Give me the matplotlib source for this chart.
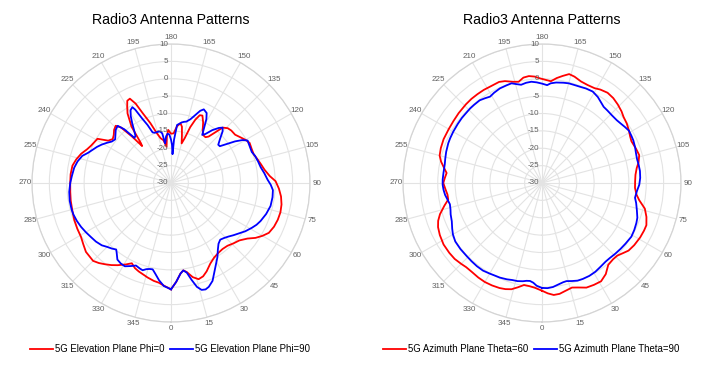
import numpy as np
import matplotlib
matplotlib.use('Agg')
import matplotlib.pyplot as plt
from matplotlib.transforms import offset_copy

plt.rcParams['font.family'] = ['Liberation Sans', 'DejaVu Sans']

# elevation plane, phi = 0 (red)
elev_phi0_deg = [0, 3, 6, 8, 10, 13, 16, 19, 22, 26, 30, 34, 38, 42, 46, 50, 54, 57, 60, 63,
                 67, 71, 75, 79, 83, 87, 91, 94, 98, 102, 106, 109, 113, 117, 120, 123, 127, 131, 134, 137,
                 139, 141, 143, 146, 149, 152, 155, 157, 159, 161, 163, 165, 167, 169, 171, 174, 177, 180, 183, 185,
                 187, 190, 193, 196, 199, 202, 204, 206, 208, 210, 212, 215, 217, 218, 220, 222, 224, 227, 230, 233,
                 236, 239, 242, 245, 248, 252, 256, 260, 265, 270, 275, 280, 286, 291, 296, 301, 305, 309, 315, 318,
                 321, 324, 327, 331, 334, 337, 340, 343, 346, 350, 353, 356, 360]
elev_phi0_db = [0.6, -1.5, -3.8, -4.6, -4.0, -2.2, -1.2, -1.6, -2.6, -4.2, -5.2, -5.7, -5.9, -5.7, -5.0, -4.3, -2.8, -1.0, 0.4, 1.6,
                2.2, 2.5, 2.6, 2.4, 1.9, 1.1, 0.1, -1.5, -2.8, -3.6, -4.3, -4.8, -4.8, -4.6, -5.2, -6.0, -6.9, -7.0, -7.3, -8.2,
                -10.8, -12.8, -13.5, -13.4, -12.3, -10.3, -8.6, -8.8, -10.5, -13.0, -16.5, -18.2, -16.0, -13.5, -12.6, -13.6, -15.7, -15.8, -14.7, -16.5,
                -19.5, -17.5, -16.8, -15.0, -11.8, -8.4, -5.0, -3.0, -3.2, -4.8, -6.4, -10.2, -15.5, -16.5, -12.5, -8.5, -7.1, -7.6, -8.5, -9.0,
                -8.2, -5.3, -5.0, -4.6, -4.0, -2.8, -1.9, -1.2, -1.0, -1.0, -0.9, -0.7, -0.5, -0.2, 0.0, 0.2, 0.8, 1.5, 1.7, 1.0,
                0.1, -0.8, -1.8, -3.2, -4.3, -3.4, -2.9, -2.5, -2.0, -1.4, -1.1, -0.4, 0.6]

# elevation plane, phi = 90 (blue)
elev_phi90_deg = [0, 3, 6, 8, 10, 12, 14, 16, 18, 20, 23, 26, 29, 32, 35, 38, 41, 44, 47, 50,
                  54, 57, 61, 64, 67, 72, 77, 82, 86, 89, 92, 96, 100, 104, 108, 111, 115, 119, 121, 123,
                  125, 127, 129, 132, 135, 137, 139, 142, 145, 147, 149, 151, 153, 156, 158, 160, 163, 166, 168, 170,
                  172, 174, 176, 177, 178.5, 180, 182, 184, 186, 188.5, 190, 192, 195, 198, 200, 202, 204, 206, 207, 209,
                  211, 213, 215, 217, 219, 221, 223, 226, 229, 232, 235, 238, 241, 244, 247, 250, 253, 257, 261, 266,
                  270, 275, 280, 285, 288, 292, 296, 300, 304, 308, 312, 315, 318, 320.5, 322, 325, 328, 331, 334, 337,
                  340, 342, 344, 346, 348, 350, 353, 356, 360]
elev_phi90_db = [0.6, -1.5, -3.8, -4.6, -3.8, -1.5, 0.8, 2.0, 2.2, 1.8, 0.6, -1.5, -3.3, -4.8, -6.5, -7.8, -8.4, -8.0, -7.4, -6.6,
                 -5.5, -4.5, -3.4, -2.6, -2.0, -1.2, -0.6, -0.5, -0.6, -1.3, -2.2, -3.0, -3.8, -4.2, -4.6, -5.1, -5.0, -4.8, -6.0, -8.0,
                 -10.4, -12.4, -12.5, -11.0, -9.0, -8.2, -9.0, -10.7, -12.8, -13.5, -11.5, -9.0, -7.4, -6.8, -7.6, -9.0, -10.8, -11.8, -12.0, -12.3,
                 -12.8, -13.2, -17.5, -21.7, -19.0, -17.5, -16.0, -15.8, -16.5, -18.5, -15.5, -14.8, -14.8, -14.8, -14.5, -12.0, -9.8, -6.5, -5.5, -6.0,
                 -7.5, -9.5, -11.5, -13.0, -13.3, -9.5, -7.5, -7.9, -8.8, -9.6, -9.2, -8.2, -7.2, -6.3, -5.5, -4.6, -3.3, -2.4, -1.8, -1.4,
                 -1.0, -0.6, -0.4, -0.4, -0.5, -0.8, -1.2, -1.7, -2.2, -2.6, -3.2, -4.0, -4.6, -5.2, -4.6, -3.1, -2.7, -2.6, -3.4, -4.2,
                 -3.8, -3.6, -4.2, -4.5, -4.6, -3.6, -1.8, -0.3, 0.6]

# azimuth plane, theta = 60 (red)
az_theta60_deg = [0, 3, 6, 9, 12, 16, 19, 23, 27, 31, 35, 39, 43, 46, 49, 52, 56, 61, 65, 68,
                  72, 76, 80, 83, 87, 91, 95, 99, 102, 106, 110, 115, 118, 121, 125, 129, 132, 136, 140, 144,
                  148, 151, 155, 159, 163, 166, 169, 172, 175, 178, 181, 184, 187, 190, 193, 196, 200, 203, 208, 212,
                  216, 220, 224, 230, 235, 240, 246, 251, 255, 258, 261, 264, 267, 270, 274, 277, 280, 283, 287, 290,
                  293, 297, 302, 307, 311, 315, 318, 322, 326, 330, 334, 338, 341, 344, 347, 350, 353, 356, 360]
az_theta60_db = [1.0, 1.8, 2.4, 2.3, 1.8, 1.3, 1.8, 2.7, 2.9, 3.0, 2.0, 0.3, 0.0, 0.1, 0.8, 1.6, 2.0, 2.3, 2.4, 2.4,
                 1.6, 0.5, -1.6, -2.6, -3.2, -3.2, -3.0, -2.4, -1.6, -0.9, -1.2, -1.6, -1.3, -0.8, -0.2, 0.2, 0.8, 1.4, 1.9, 2.1,
                 1.7, 1.2, 1.1, 1.3, 2.0, 2.3, 1.4, 0.5, -0.6, -0.3, 0.1, 0.7, 1.0, 0.8, -0.1, 0.3, 1.2, 1.6, 1.5, 1.6,
                 1.6, 1.6, 1.5, 1.3, 1.1, 1.0, 1.0, 0.8, 0.5, -0.3, -1.4, -2.4, -2.0, -1.6, -2.2, -2.6, -2.6, -1.2, 0.7, 1.8,
                 2.5, 3.0, 3.4, 3.4, 3.3, 2.9, 2.6, 2.6, 2.8, 2.9, 2.8, 2.6, 2.3, 1.8, 0.8, -0.2, -0.1, 0.2, 1.0]

# azimuth plane, theta = 90 (blue)
az_theta90_deg = [0, 3, 6, 9, 12, 14, 17, 20, 23, 27, 31, 35, 39, 42, 46, 50, 54, 59, 63, 67,
                  70, 74, 78, 81, 85, 89, 93, 97, 101, 104, 108, 111, 115, 118, 121, 124, 127, 130, 134, 138,
                  141, 144, 147, 151, 155, 158, 162, 165, 168, 172, 175, 177, 180, 183, 186, 189, 192, 195, 197, 200,
                  204, 208, 211, 214, 217, 221, 224, 228, 231, 235, 240, 244, 247, 252, 256, 259, 264, 268, 271, 274,
                  277, 280, 283, 286, 289, 293, 297, 300, 304, 309, 314, 318, 322, 326, 330, 333, 336, 340, 343, 346,
                  349, 351, 353, 355, 357, 360]
az_theta90_db = [0.2, 0.3, 0.1, -0.4, -0.8, -0.9, -0.5, -0.1, 0.0, 0.0, -0.2, -0.6, -0.9, -0.9, -0.7, -0.5, -0.3, 0.0, -0.2, -0.5,
                 -0.8, -1.6, -2.3, -2.9, -2.6, -2.0, -1.7, -1.6, -1.7, -1.8, -1.6, -1.3, -1.0, -0.9, -0.8, -1.2, -1.6, -1.9, -2.0, -1.9,
                 -1.8, -1.2, -0.5, 0.1, 0.0, -0.2, -0.3, -0.3, -0.5, -0.8, -1.2, -1.8, -1.4, -1.0, -0.7, -0.8, -1.1, -0.5, 0.0, -0.1,
                 -0.2, -0.6, -1.0, -0.6, -0.2, -0.2, -0.2, -0.3, -0.3, -0.4, -0.5, -0.6, -0.7, -1.0, -1.3, -1.5, -1.5, -1.4, -1.4, -1.6,
                 -1.9, -2.4, -2.8, -2.6, -2.2, -1.8, -1.0, -0.4, 0.1, 0.2, 0.2, 0.3, 0.4, 0.4, 0.1, -0.1, -0.2, -0.5, -0.8, -0.9,
                 -1.2, -1.5, -1.6, -1.2, -0.4, 0.2]

theta_ticks = list(range(0, 360, 15))
r_ticks = [-30, -25, -20, -15, -10, -5, 0, 5, 10]

title = 'Radio3 Antenna Patterns'
left_labels = ['5G Elevation Plane Phi=0', '5G Elevation Plane Phi=90']
right_labels = ['5G Azimuth Plane Theta=60', '5G Azimuth Plane Theta=90']

RED = '#ff0000'
BLUE = '#0000ff'
GRID = '#e3e3e3'
TXT = '#606060'

W, H = 709, 378
fig = plt.figure(figsize=(W / 100, H / 100), dpi=100)

R = 139


def make_axes(cx, cy):
    ax = fig.add_axes([(cx - R) / W, (H - cy - R) / H, 2 * R / W, 2 * R / H], projection='polar')
    ax.set_theta_zero_location('S')
    ax.set_theta_direction(1)
    ax.set_ylim(-30, 10)
    ax.set_yticks(r_ticks)
    ax.set_yticklabels([])
    ax.set_xticks(np.deg2rad(theta_ticks))
    ax.set_xticklabels([str(t) for t in theta_ticks], fontsize=5.8, color=TXT)
    ax.tick_params(axis='x', length=0, pad=-2.0)
    ax.grid(True, color=GRID, linewidth=0.8)
    ax.spines['polar'].set_color('#d4d4d4')
    ax.spines['polar'].set_linewidth(0.9)
    # radial labels along the 180 degree spoke
    trans = offset_copy(ax.transData, fig=fig, x=-2.5, y=0, units='dots')
    for r in r_ticks:
        ax.text(np.pi, r, str(r), transform=trans, ha='right', va='center',
                fontsize=5.8, color=TXT)
    ax.set_title(title, fontsize=10.2, y=1.0, pad=14.2)
    return ax


ax1 = make_axes(171, 183)
ax1.plot(np.deg2rad(elev_phi0_deg), elev_phi0_db, color=RED, linewidth=1.3, label=left_labels[0])
ax1.plot(np.deg2rad(elev_phi90_deg), elev_phi90_db, color=BLUE, linewidth=1.3, label=left_labels[1])

ax2 = make_axes(542, 183)
ax2.plot(np.deg2rad(az_theta60_deg), az_theta60_db, color=RED, linewidth=1.3, label=right_labels[0])
ax2.plot(np.deg2rad(az_theta90_deg), az_theta90_db, color=BLUE, linewidth=1.3, label=right_labels[1])

for ax, cx in [(ax1, 170), (ax2, 531)]:
    ax.legend(loc='center', bbox_to_anchor=(cx / W, 1 - 349 / H), bbox_transform=fig.transFigure,
              ncol=2, frameon=False, fontsize=6.9, handlelength=2.4, handletextpad=0.2,
              columnspacing=0.6, borderpad=0)

fig.savefig('out.png', dpi=100)
